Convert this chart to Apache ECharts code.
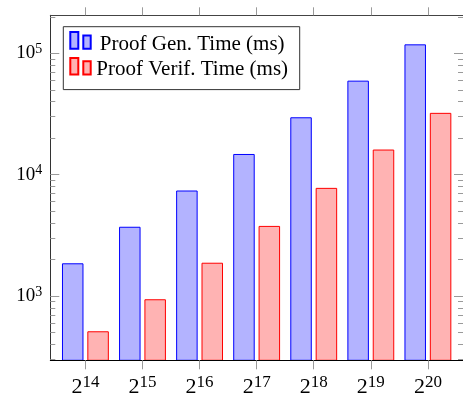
<!DOCTYPE html>
<html>
<head>
<meta charset="utf-8">
<script src="https://cdn.jsdelivr.net/npm/echarts@6/dist/echarts.min.js"></script>
<style>
html,body{margin:0;padding:0;background:#fff;}
#chart{width:463px;height:399px;}
</style>
</head>
<body>
<div id="chart"></div>
<script>
// ---- data ----
const xPositions = [0, 1, 2, 3, 4, 5, 6];
const xBase = '2';
const xExponents = ['14', '15', '16', '17', '18', '19', '20'];
const seriesNames = ['Proof Gen. Time (ms)', 'Proof Verif. Time (ms)'];
const genTime = [1860, 3720, 7400, 14800, 29700, 59500, 118500];
const verifTime = [512, 940, 1880, 3780, 7780, 16100, 32300];
const yMajorTicks = [1000, 10000, 100000];
const yTickBase = '10';
const yTickExponents = ['3', '4', '5'];
const yMinorTicks = [300, 400, 500, 600, 700, 800, 900,
  2000, 3000, 4000, 5000, 6000, 7000, 8000, 9000,
  20000, 30000, 40000, 50000, 60000, 70000, 80000, 90000, 200000];

const FONT = '"Liberation Serif", "DejaVu Serif", serif';
const tickColor = '#9a9a9a';

const chart = echarts.init(document.getElementById('chart'), null, {renderer: 'canvas'});

const xMin = -0.615, xMax = 6.615;
const yMin = 295.2, yMax = 205600;

function xLabel(v) {
  const i = xPositions.indexOf(Math.round(v));
  return '{b|' + xBase + '}{s|' + xExponents[i] + '}';
}
function yLabel(v) {
  let i = -1;
  for (let k = 0; k < yMajorTicks.length; k++) {
    if (Math.abs(yMajorTicks[k] - v) / yMajorTicks[k] < 1e-6) i = k;
  }
  if (i < 0) return '';
  return '{b|' + yTickBase + '}{s|' + yTickExponents[i] + '}';
}

const xCommon = {
  type: 'value', min: xMin, max: xMax, gridIndex: 0,
  splitLine: {show: false}, z: 5
};
const yCommon = {
  type: 'log', logBase: 10, min: yMin, max: yMax, gridIndex: 0,
  splitLine: {show: false}, minorTick: {show: false}, z: 5
};

chart.setOption({
  animation: false,
  backgroundColor: '#fff',
  grid: {left: 50.3, top: 15.3, width: 415, height: 345, containLabel: false},
  xAxis: [
    Object.assign({}, xCommon, {
      position: 'bottom',
      axisLine: {show: true, onZero: false, lineStyle: {color: '#000', width: 1}},
      axisTick: {show: true, inside: false, length: 9, customValues: xPositions, lineStyle: {color: tickColor}},
      axisLabel: {
        show: true, margin: 14, customValues: xPositions, formatter: xLabel,
        rich: {
          b: {fontFamily: FONT, fontSize: 22, lineHeight: 26, color: '#000'},
          s: {fontFamily: FONT, fontSize: 17, lineHeight: 11.4, verticalAlign: 'top', color: '#000'}
        }
      }
    }),
    Object.assign({}, xCommon, {
      position: 'top',
      axisLine: {show: true, onZero: false, lineStyle: {color: '#444', width: 1}},
      axisTick: {show: true, inside: false, length: 8, customValues: xPositions, lineStyle: {color: tickColor}},
      axisLabel: {show: false}
    })
  ],
  yAxis: [
    Object.assign({}, yCommon, {
      position: 'left',
      axisLine: {show: true, onZero: false, lineStyle: {color: '#333', width: 1}},
      axisTick: {show: true, inside: true, length: 9, customValues: yMajorTicks, lineStyle: {color: tickColor}},
      axisLabel: {
        show: true, margin: 8, customValues: yMajorTicks, formatter: yLabel,
        rich: {
          b: {fontFamily: FONT, fontSize: 19, lineHeight: 22, color: '#000'},
          s: {fontFamily: FONT, fontSize: 14, lineHeight: 13, verticalAlign: 'top', color: '#000'}
        }
      }
    }),
    Object.assign({}, yCommon, {
      position: 'left',
      axisLine: {show: false, onZero: false},
      axisTick: {show: true, inside: true, length: 5, customValues: yMinorTicks, lineStyle: {color: tickColor}},
      axisLabel: {show: false}
    }),
    Object.assign({}, yCommon, {
      position: 'right',
      axisLine: {show: true, onZero: false, lineStyle: {color: '#333', width: 1}},
      axisTick: {show: true, inside: true, length: 9, customValues: yMajorTicks, lineStyle: {color: tickColor}},
      axisLabel: {show: false}
    }),
    Object.assign({}, yCommon, {
      position: 'right',
      axisLine: {show: false, onZero: false},
      axisTick: {show: true, inside: true, length: 5, customValues: yMinorTicks, lineStyle: {color: tickColor}},
      axisLabel: {show: false}
    })
  ],
  legend: {
    show: true,
    orient: 'vertical',
    left: 63.3, top: 26.7,
    padding: [4.4, 11, 6.9, 6],
    itemGap: 0,
    itemWidth: 20.4, itemHeight: 23.8,
    icon: 'path://M0,0h8v16.7h-8z M13,3.3h7.4v13.4h-7.4z M0,23.8h0.01',
    backgroundColor: '#fff',
    borderColor: '#333', borderWidth: 1, borderRadius: 0,
    selectedMode: false,
    data: seriesNames,
    formatter: function (name) { return '{t|' + name + '}'; },
    textStyle: {
      rich: {
        t: {fontFamily: FONT, fontSize: 21, lineHeight: 25, width: 193, align: 'center', color: '#000'}
      }
    }
  },
  series: [
    {
      name: seriesNames[0], type: 'bar', xAxisIndex: 0, yAxisIndex: 0,
      barWidth: 21.5, barGap: '18%', clip: true,
      itemStyle: {color: '#b3b3ff', borderColor: '#0000ff', borderWidth: 1},
      data: xPositions.map((x, i) => [x, genTime[i]])
    },
    {
      name: seriesNames[1], type: 'bar', xAxisIndex: 0, yAxisIndex: 0,
      barWidth: 21.5, barGap: '18%', clip: true,
      itemStyle: {color: '#ffb3b3', borderColor: '#ff0000', borderWidth: 1},
      data: xPositions.map((x, i) => [x, verifTime[i]])
    }
  ]
});
</script>
</body>
</html>
